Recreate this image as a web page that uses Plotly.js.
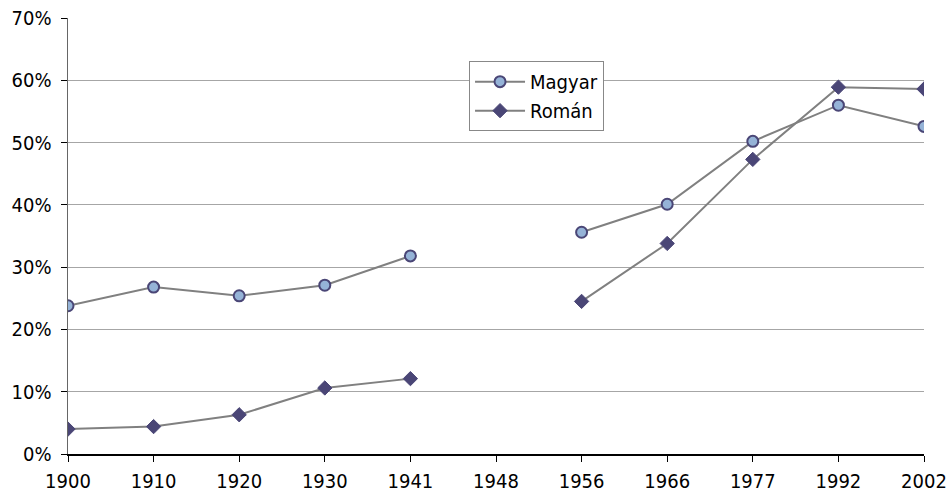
<!DOCTYPE html>
<html>
<head>
<meta charset="utf-8">
<script src="https://cdn.plot.ly/plotly-3.0.1.min.js"></script>
<style>html,body{margin:0;padding:0;background:#fff;}#chart{width:949px;height:494px;}</style>
</head>
<body>
<div id="chart"></div>
<script>
const years = ['1900','1910','1920','1930','1941','1948','1956','1966','1977','1992','2002'];
const magyar = [23.8, 26.8, 25.4, 27.1, 31.8, null, 35.6, 40.1, 50.2, 56.0, 52.6];
const roman  = [4.0, 4.4, 6.3, 10.6, 12.1, null, 24.5, 33.8, 47.3, 58.9, 58.6];
const yTicks = [0, 10, 20, 30, 40, 50, 60, 70];

const lineColor = '#808080';
const traces = [
  {
    x: years, y: magyar, name: 'Magyar', type: 'scatter', mode: 'lines+markers',
    connectgaps: false, legendgroup: 'a',
    line: {color: lineColor, width: 2},
    marker: {symbol: 'circle', size: 11, color: '#95b3d7', line: {color: '#4a4676', width: 2}}
  },
  {
    x: years, y: roman, name: 'Román', type: 'scatter', mode: 'lines+markers',
    connectgaps: false, legendgroup: 'b',
    line: {color: lineColor, width: 2},
    marker: {symbol: 'diamond', size: 11, color: '#4a4676', line: {color: '#4a4676', width: 1}}
  }
];

const fam = '"DejaVu Sans Condensed", "DejaVu Sans", Verdana, sans-serif';
const font = {family: fam, size: 20, color: '#000'};
const layout = {
  width: 949, height: 494,
  margin: {l: 68, r: 25, t: 18, b: 40},
  paper_bgcolor: '#fff', plot_bgcolor: '#fff',
  font: font,
  showlegend: true,
  legend: {
    x: 0.4685, y: 0.901, xanchor: 'left', yanchor: 'top',
    bgcolor: '#fff', bordercolor: '#888', borderwidth: 1,
    font: {family: fam, size: 20, color: '#000'},
    traceorder: 'grouped', tracegroupgap: 0,
    itemwidth: 50
  },
  xaxis: {
    type: 'category', range: [0, 10],
    showgrid: false, zeroline: false,
    showline: true, linecolor: '#000', linewidth: 1.5,
    ticks: 'outside', ticklen: 6, tickcolor: '#000',
    ticklabelstandoff: 2,
    tickfont: font
  },
  yaxis: {
    range: [0, 70], tickvals: yTicks, ticktext: yTicks.map(v => v + '%'),
    showgrid: true, gridcolor: '#a6a6a6', gridwidth: 1.2,
    zeroline: false,
    showline: true, linecolor: '#666', linewidth: 1.5,
    ticks: 'outside', ticklen: 6, tickcolor: '#000',
    ticklabelstandoff: 5,
    tickfont: font
  }
};

Plotly.newPlot('chart', traces, layout, {staticPlot: true, displayModeBar: false});
</script>
</body>
</html>
